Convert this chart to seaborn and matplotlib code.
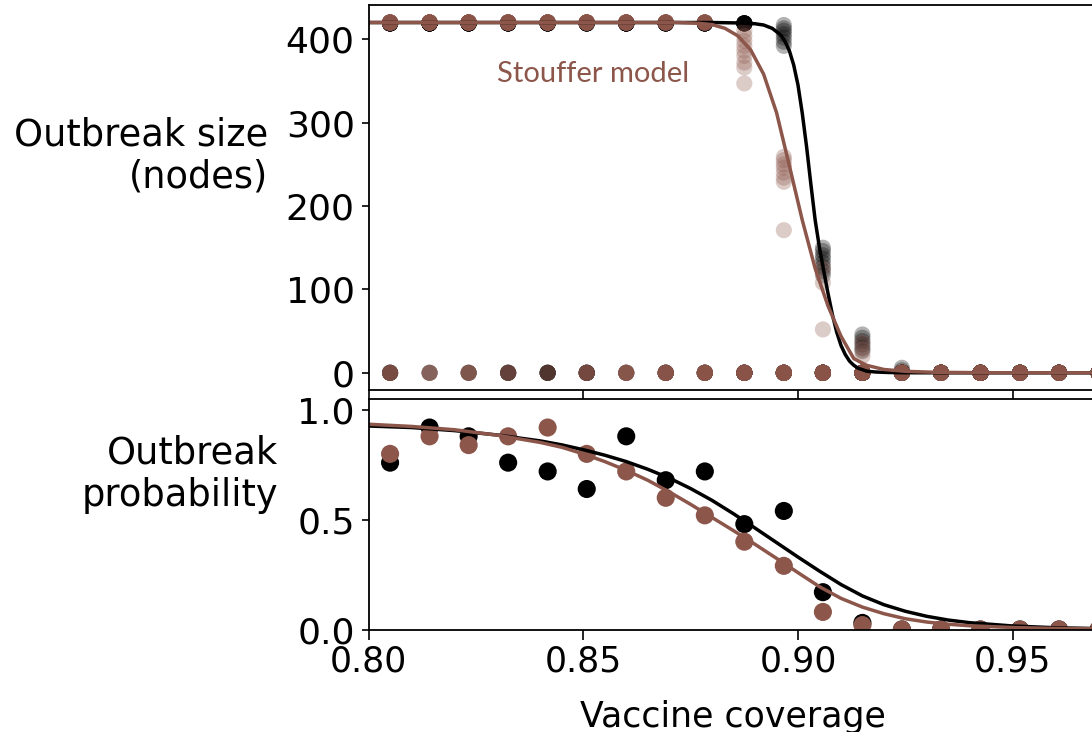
import numpy as np
import pandas as pd
import matplotlib
matplotlib.use("Agg")
import matplotlib.pyplot as plt
import seaborn as sns

# ---------------- data ----------------
MODELS = ["Network", "Stouffer"]
COLORS = {"Network": "black", "Stouffer": "#8c564b"}

coverage = [0.8050, 0.8142, 0.8233, 0.8325, 0.8417, 0.8508, 0.8600, 0.8692,
            0.8783, 0.8875, 0.8967, 0.9058, 0.9150, 0.9242, 0.9333, 0.9425,
            0.9517, 0.9608, 0.9700]

# outbreak size runs (top panel)
net_plateau_size = 419
net_plateau_runs = [19, 23, 22, 19, 18, 16, 22, 17, 18, 12, 0, 0, 0, 0, 0, 0, 0, 0, 0]
net_zero_runs = [6, 2, 3, 6, 7, 9, 3, 8, 7, 13, 12, 20, 22, 25, 25, 25, 25, 25, 25]
net_mid_cov = [0.8967, 0.9058, 0.9150, 0.9242]
net_mid_sizes = [[417, 413, 410, 406, 402, 397, 392],
                 [150, 146, 141, 137, 132, 127, 122, 117],
                 [46, 42, 38, 34, 30, 26],
                 [6, 3]]

stf_plateau_size = 420
stf_plateau_runs = [20, 22, 21, 22, 23, 20, 18, 15, 13, 0, 0, 0, 0, 0, 0, 0, 0, 0, 0]
stf_zero_runs = [5, 3, 4, 3, 2, 5, 7, 10, 12, 15, 18, 23, 24, 25, 25, 25, 25, 25, 25]
stf_mid_cov = [0.8875, 0.8967, 0.9058, 0.9150]
stf_mid_sizes = [[410, 404, 398, 392, 386, 380, 372, 366, 347],
                 [259, 255, 250, 246, 240, 234, 229, 171],
                 [125, 108, 52],
                 [36, 28, 20]]

# fitted curves, outbreak size (top panel)
net_size_curve_x = [0.800, 0.880, 0.886, 0.890, 0.892, 0.894, 0.896, 0.897, 0.898,
                    0.899, 0.900, 0.901, 0.902, 0.903, 0.904, 0.905, 0.906, 0.907,
                    0.908, 0.909, 0.910, 0.911, 0.912, 0.913, 0.914, 0.916, 0.918,
                    0.921, 0.925, 0.935, 0.980]
net_size_curve_y = [420, 420, 419.5, 418.5, 417, 413, 405, 397, 386,
                    369, 345, 311, 271, 226, 183, 150, 122, 95,
                    70, 49, 33, 22, 14, 9, 5.5, 2, 1,
                    0.4, 0.1, 0, 0]
stf_size_curve_x = [0.800, 0.872, 0.877, 0.880, 0.883, 0.886, 0.889, 0.892, 0.895,
                    0.898, 0.901, 0.904, 0.907, 0.910, 0.913, 0.916, 0.920, 0.925,
                    0.932, 0.945, 0.980]
stf_size_curve_y = [420, 420, 419, 417.5, 413, 404, 387, 358, 312,
                    248, 183, 125, 80, 44, 17, 9, 4, 1.8,
                    0.6, 0.1, 0]

# outbreak probability (bottom panel)
net_prob = [0.76, 0.92, 0.88, 0.76, 0.72, 0.64, 0.88, 0.68, 0.72, 0.48,
            0.54, 0.17, 0.03, 0.0, 0.0, 0.0, 0.0, 0.0, 0.0]
stf_prob = [0.80, 0.88, 0.84, 0.88, 0.92, 0.80, 0.72, 0.60, 0.52, 0.40,
            0.29, 0.08, 0.02, 0.0, 0.0, 0.0, 0.0, 0.0, 0.0]

prob_curve_x = [0.800, 0.810, 0.820, 0.830, 0.840, 0.845, 0.850, 0.855, 0.860,
                0.865, 0.870, 0.875, 0.880, 0.885, 0.890, 0.895, 0.900, 0.905,
                0.910, 0.915, 0.920, 0.925, 0.930, 0.935, 0.940, 0.950, 0.960,
                0.970, 0.980]
net_prob_curve = [0.927, 0.920, 0.906, 0.886, 0.859, 0.841, 0.819, 0.794, 0.765,
                  0.730, 0.690, 0.642, 0.588, 0.527, 0.462, 0.396, 0.330, 0.266,
                  0.205, 0.153, 0.113, 0.083, 0.060, 0.043, 0.031, 0.016, 0.008,
                  0.004, 0.002]
stf_prob_curve = [0.935, 0.925, 0.910, 0.885, 0.852, 0.830, 0.800, 0.765, 0.725,
                  0.680, 0.627, 0.570, 0.510, 0.450, 0.388, 0.324, 0.259, 0.195,
                  0.142, 0.102, 0.072, 0.049, 0.034, 0.024, 0.017, 0.009, 0.005,
                  0.003, 0.002]

# ---------------- tables ----------------
def size_rows(model, plateau_size, plateau_runs, zero_runs, mid_cov, mid_sizes):
    rows = []
    for c, n_top, n_zero in zip(coverage, plateau_runs, zero_runs):
        rows += [(model, c, plateau_size)] * n_top
        rows += [(model, c, 0)] * n_zero
    for c, sizes in zip(mid_cov, mid_sizes):
        rows += [(model, c, s) for s in sizes]
    return rows

size_df = pd.DataFrame(
    size_rows("Network", net_plateau_size, net_plateau_runs, net_zero_runs, net_mid_cov, net_mid_sizes)
    + size_rows("Stouffer", stf_plateau_size, stf_plateau_runs, stf_zero_runs, stf_mid_cov, stf_mid_sizes),
    columns=["model", "coverage", "size"])

size_curve_df = pd.concat([
    pd.DataFrame({"model": "Network", "coverage": net_size_curve_x, "size": net_size_curve_y}),
    pd.DataFrame({"model": "Stouffer", "coverage": stf_size_curve_x, "size": stf_size_curve_y}),
])

prob_df = pd.concat([
    pd.DataFrame({"model": "Network", "coverage": coverage, "prob": net_prob}),
    pd.DataFrame({"model": "Stouffer", "coverage": coverage, "prob": stf_prob}),
])
prob_curve_df = pd.concat([
    pd.DataFrame({"model": "Network", "coverage": prob_curve_x, "prob": net_prob_curve}),
    pd.DataFrame({"model": "Stouffer", "coverage": prob_curve_x, "prob": stf_prob_curve}),
])

# ---------------- figure ----------------
sns.set_style("ticks", rc={"axes.edgecolor": "black", "text.color": "black",
                           "axes.labelcolor": "black", "xtick.color": "black",
                           "ytick.color": "black"})
plt.rcParams["font.family"] = ["DejaVu Sans"]
plt.rcParams["axes.linewidth"] = 1.3

W, H = 1092, 732
fig = plt.figure(figsize=(W / 100, H / 100), dpi=100)

x0, x1 = 0.80, 0.975
px_per_unit = 4294.0
left_px = 368.6
width_px = (x1 - x0) * px_per_unit

ax_top = fig.add_axes([left_px / W, (H - 389.5) / H, width_px / W, (389.5 - 5) / H])
ax_bot = fig.add_axes([left_px / W, (H - 629.5) / H, width_px / W, (629.5 - 399) / H])

# top panel
sns.lineplot(data=size_curve_df, x="coverage", y="size", hue="model", hue_order=MODELS,
             palette=COLORS, estimator=None, sort=True, linewidth=2.5, legend=False, ax=ax_top)
sns.scatterplot(data=size_df, x="coverage", y="size", hue="model", hue_order=MODELS,
                palette=COLORS, s=135, alpha=0.3, linewidth=0, legend=False, ax=ax_top)
ax_top.set_xlim(x0, x1)
ax_top.set_ylim(-20, 441)
ax_top.set_yticks([0, 100, 200, 300, 400])
ax_top.set_xticks([0.80, 0.85, 0.90, 0.95])
ax_top.tick_params(axis="x", labelbottom=False, length=7, width=1.2, direction="out")
ax_top.tick_params(axis="y", labelsize=26, length=5, width=1.2, pad=5)
ax_top.set_xlabel("")
ax_top.set_ylabel("Outbreak size\n(nodes)", rotation=0, fontsize=26.5, ha="right", va="center",
                  multialignment="right")
ax_top.yaxis.set_label_coords((268 - left_px) / width_px, (389.5 - 156) / 384.5)
ax_top.text(0.8299, 348.5, "Stouffer model", color="#8c564b", fontsize=21,
            family=["Lato", "DejaVu Sans"], ha="left", va="baseline")

# bottom panel
sns.lineplot(data=prob_curve_df, x="coverage", y="prob", hue="model", hue_order=MODELS,
             palette=COLORS, estimator=None, sort=True, linewidth=2.5, legend=False, ax=ax_bot)
sns.scatterplot(data=prob_df, x="coverage", y="prob", hue="model", hue_order=MODELS,
                palette=COLORS, s=170, alpha=1.0, linewidth=0, legend=False, ax=ax_bot)
ax_bot.set_xlim(x0, x1)
ax_bot.set_ylim(0, 1.05)
ax_bot.set_yticks([0.0, 0.5, 1.0])
ax_bot.set_yticklabels(["0.0", "0.5", "1.0"])
ax_bot.set_xticks([0.80, 0.85, 0.90, 0.95])
ax_bot.set_xticklabels(["0.80", "0.85", "0.90", "0.95"])
ax_bot.tick_params(axis="y", labelsize=26, length=5, width=1.2, pad=5)
ax_bot.tick_params(axis="x", labelsize=25, length=7, width=1.2, pad=4)
ax_bot.set_ylabel("Outbreak\nprobability", rotation=0, fontsize=26.5, ha="right", va="center",
                  multialignment="right")
ax_bot.yaxis.set_label_coords((278 - left_px) / width_px, (629.5 - 474) / 230.5)
ax_bot.set_xlabel("Vaccine coverage", fontsize=25, labelpad=15)
ax_bot.xaxis.label.set_x((733 - left_px) / width_px)

fig.savefig("out.png", dpi=100)
